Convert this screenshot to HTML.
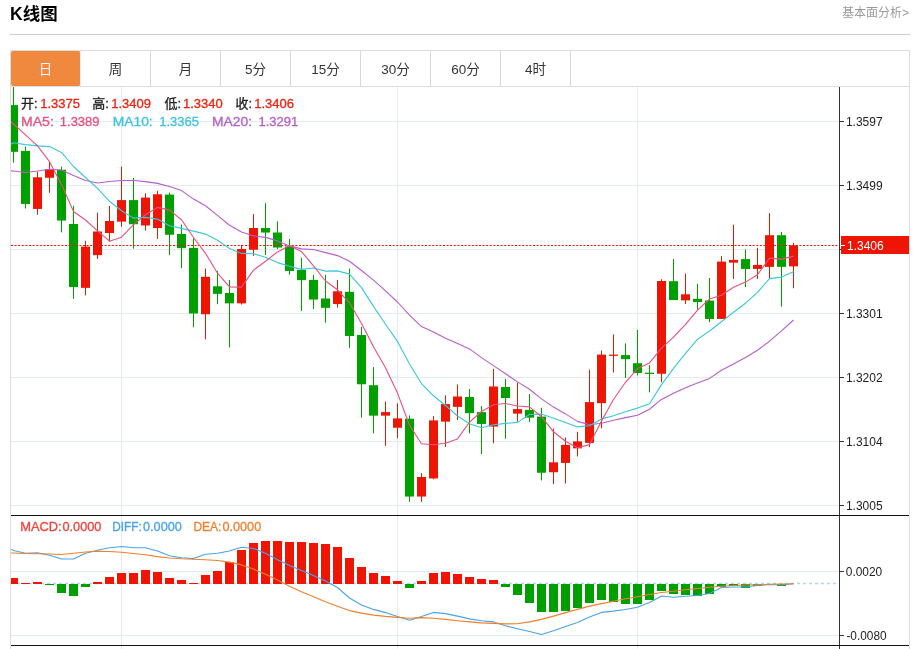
<!DOCTYPE html>
<html lang="zh-CN">
<head>
<meta charset="utf-8">
<title>K线图</title>
<style>
html,body{margin:0;padding:0;background:#fff;}
body{width:915px;height:649px;overflow:hidden;position:relative;font-family:"Liberation Sans","Noto Sans CJK SC",sans-serif;color:#333;}
.title{position:absolute;left:10px;top:1px;font-size:17.5px;line-height:26px;font-weight:bold;color:#000;letter-spacing:0;}
.more{position:absolute;right:6px;top:4px;font-size:12px;line-height:18px;color:#999;text-decoration:none;}
.hr{position:absolute;left:10px;top:34px;width:900px;height:1px;background:#ccc;}
.box{position:absolute;left:10px;top:50px;width:898px;height:598px;border:1px solid #ddd;border-bottom:none;}
.tabs{position:absolute;left:0;top:0;width:898px;height:35px;border-bottom:1px solid #ddd;margin:0;padding:0;list-style:none;}
.tabs li{float:left;width:69px;height:35px;line-height:37px;border-right:1px solid #d8d8d8;text-align:center;font-size:13.5px;color:#333;}
.tabs li.on{background:#f0883e;color:#fff;border-radius:2px;border-right-color:#eee;}
svg.chart{position:absolute;left:0;top:0;font-family:"Liberation Sans","Noto Sans CJK SC",sans-serif;}
</style>
</head>
<body>
<div class="title">K线图</div>
<a class="more">基本面分析&gt;</a>
<div class="hr"></div>
<div class="box">
<ul class="tabs"><li class="on">日</li><li>周</li><li>月</li><li>5分</li><li>15分</li><li>30分</li><li>60分</li><li>4时</li></ul>
</div>
<svg class="chart" width="915" height="649" viewBox="0 0 915 649">
<defs><clipPath id="cp"><rect x="11" y="86" width="828" height="563"/></clipPath></defs>
<g shape-rendering="crispEdges" stroke="#e2ebf3" stroke-width="1">
<line x1="11" y1="121.5" x2="839" y2="121.5"/>
<line x1="11" y1="185.5" x2="839" y2="185.5"/>
<line x1="11" y1="249.5" x2="839" y2="249.5"/>
<line x1="11" y1="313.5" x2="839" y2="313.5"/>
<line x1="11" y1="377.5" x2="839" y2="377.5"/>
<line x1="11" y1="441.5" x2="839" y2="441.5"/>
<line x1="11" y1="505.5" x2="839" y2="505.5"/>
<line x1="11" y1="571.5" x2="839" y2="571.5"/>
<line x1="11" y1="635.5" x2="839" y2="635.5"/>
<line x1="121.5" y1="87" x2="121.5" y2="649"/>
<line x1="397.5" y1="87" x2="397.5" y2="649"/>
<line x1="637.5" y1="87" x2="637.5" y2="649"/>
</g>
<line x1="11" y1="583.5" x2="839" y2="583.5" stroke="#a9d9f0" stroke-width="1.6" stroke-dasharray="3 3"/>
<g clip-path="url(#cp)">
<g>
<rect x="13" y="87.00" width="1" height="75.75" fill="#009f00"/>
<rect x="9" y="105.10" width="9" height="46.75" fill="#009f00"/>
<rect x="25" y="146.60" width="1" height="61.85" fill="#009f00"/>
<rect x="21" y="150.90" width="9" height="53.05" fill="#009f00"/>
<rect x="37" y="171.80" width="1" height="42.95" fill="#ee1505"/>
<rect x="33" y="177.30" width="9" height="31.65" fill="#ee1505"/>
<rect x="49" y="161.70" width="1" height="31.15" fill="#ee1505"/>
<rect x="45" y="169.20" width="9" height="8.55" fill="#ee1505"/>
<rect x="61" y="166.70" width="1" height="65.65" fill="#009f00"/>
<rect x="57" y="169.70" width="9" height="50.85" fill="#009f00"/>
<rect x="73" y="205.80" width="1" height="93.15" fill="#009f00"/>
<rect x="69" y="224.00" width="9" height="63.05" fill="#009f00"/>
<rect x="85" y="240.80" width="1" height="54.55" fill="#ee1505"/>
<rect x="81" y="246.60" width="9" height="41.25" fill="#ee1505"/>
<rect x="97" y="212.70" width="1" height="46.25" fill="#ee1505"/>
<rect x="93" y="231.50" width="9" height="23.65" fill="#ee1505"/>
<rect x="109" y="205.90" width="1" height="35.45" fill="#ee1505"/>
<rect x="105" y="221.00" width="9" height="12.05" fill="#ee1505"/>
<rect x="121" y="166.70" width="1" height="60.05" fill="#ee1505"/>
<rect x="117" y="200.10" width="9" height="21.55" fill="#ee1505"/>
<rect x="133" y="178.00" width="1" height="70.65" fill="#009f00"/>
<rect x="129" y="200.10" width="9" height="24.15" fill="#009f00"/>
<rect x="145" y="193.30" width="1" height="37.25" fill="#ee1505"/>
<rect x="141" y="197.60" width="9" height="27.85" fill="#ee1505"/>
<rect x="157" y="190.80" width="1" height="48.05" fill="#ee1505"/>
<rect x="153" y="194.30" width="9" height="33.75" fill="#ee1505"/>
<rect x="169" y="192.60" width="1" height="62.35" fill="#009f00"/>
<rect x="165" y="194.60" width="9" height="40.15" fill="#009f00"/>
<rect x="181" y="224.50" width="1" height="43.75" fill="#009f00"/>
<rect x="177" y="234.00" width="9" height="14.15" fill="#009f00"/>
<rect x="193" y="238.30" width="1" height="88.95" fill="#009f00"/>
<rect x="189" y="247.90" width="9" height="65.55" fill="#009f00"/>
<rect x="205" y="268.50" width="1" height="70.85" fill="#ee1505"/>
<rect x="201" y="276.80" width="9" height="37.45" fill="#ee1505"/>
<rect x="217" y="271.00" width="1" height="33.15" fill="#009f00"/>
<rect x="213" y="286.30" width="9" height="7.55" fill="#009f00"/>
<rect x="229" y="280.00" width="1" height="67.35" fill="#009f00"/>
<rect x="225" y="293.00" width="9" height="10.35" fill="#009f00"/>
<rect x="241" y="245.00" width="1" height="59.55" fill="#ee1505"/>
<rect x="237" y="249.00" width="9" height="54.35" fill="#ee1505"/>
<rect x="253" y="214.10" width="1" height="41.75" fill="#ee1505"/>
<rect x="249" y="228.00" width="9" height="21.75" fill="#ee1505"/>
<rect x="265" y="203.20" width="1" height="51.85" fill="#009f00"/>
<rect x="261" y="228.00" width="9" height="4.55" fill="#009f00"/>
<rect x="277" y="221.40" width="1" height="27.85" fill="#009f00"/>
<rect x="273" y="232.50" width="9" height="15.05" fill="#009f00"/>
<rect x="289" y="239.00" width="1" height="35.75" fill="#009f00"/>
<rect x="285" y="246.50" width="9" height="24.45" fill="#009f00"/>
<rect x="301" y="257.80" width="1" height="53.05" fill="#009f00"/>
<rect x="297" y="269.90" width="9" height="10.25" fill="#009f00"/>
<rect x="313" y="274.90" width="1" height="34.15" fill="#009f00"/>
<rect x="309" y="279.90" width="9" height="19.65" fill="#009f00"/>
<rect x="325" y="274.90" width="1" height="47.75" fill="#009f00"/>
<rect x="321" y="298.50" width="9" height="9.35" fill="#009f00"/>
<rect x="337" y="279.90" width="1" height="27.65" fill="#ee1505"/>
<rect x="333" y="291.30" width="9" height="12.75" fill="#ee1505"/>
<rect x="349" y="268.60" width="1" height="79.45" fill="#009f00"/>
<rect x="345" y="291.80" width="9" height="44.15" fill="#009f00"/>
<rect x="361" y="326.90" width="1" height="90.75" fill="#009f00"/>
<rect x="357" y="335.00" width="9" height="49.25" fill="#009f00"/>
<rect x="373" y="367.10" width="1" height="66.15" fill="#009f00"/>
<rect x="369" y="385.20" width="9" height="30.45" fill="#009f00"/>
<rect x="385" y="401.60" width="1" height="44.25" fill="#ee1505"/>
<rect x="381" y="412.10" width="9" height="3.55" fill="#ee1505"/>
<rect x="397" y="403.30" width="1" height="34.95" fill="#ee1505"/>
<rect x="393" y="418.40" width="9" height="9.35" fill="#ee1505"/>
<rect x="409" y="415.40" width="1" height="86.45" fill="#009f00"/>
<rect x="405" y="418.70" width="9" height="77.85" fill="#009f00"/>
<rect x="421" y="473.20" width="1" height="28.65" fill="#ee1505"/>
<rect x="417" y="477.00" width="9" height="19.55" fill="#ee1505"/>
<rect x="433" y="416.10" width="1" height="63.15" fill="#ee1505"/>
<rect x="429" y="420.40" width="9" height="58.05" fill="#ee1505"/>
<rect x="445" y="395.30" width="1" height="51.75" fill="#ee1505"/>
<rect x="441" y="404.10" width="9" height="17.55" fill="#ee1505"/>
<rect x="457" y="384.50" width="1" height="35.45" fill="#ee1505"/>
<rect x="453" y="396.50" width="9" height="10.35" fill="#ee1505"/>
<rect x="469" y="389.00" width="1" height="44.25" fill="#009f00"/>
<rect x="465" y="397.00" width="9" height="16.15" fill="#009f00"/>
<rect x="481" y="406.10" width="1" height="47.95" fill="#009f00"/>
<rect x="477" y="412.10" width="9" height="11.85" fill="#009f00"/>
<rect x="493" y="368.90" width="1" height="74.35" fill="#ee1505"/>
<rect x="489" y="386.50" width="9" height="40.05" fill="#ee1505"/>
<rect x="505" y="378.90" width="1" height="59.85" fill="#009f00"/>
<rect x="501" y="387.00" width="9" height="11.05" fill="#009f00"/>
<rect x="517" y="382.70" width="1" height="38.75" fill="#ee1505"/>
<rect x="513" y="409.10" width="9" height="4.55" fill="#ee1505"/>
<rect x="529" y="394.00" width="1" height="27.95" fill="#009f00"/>
<rect x="525" y="409.90" width="9" height="7.75" fill="#009f00"/>
<rect x="541" y="407.80" width="1" height="72.65" fill="#009f00"/>
<rect x="537" y="416.60" width="9" height="56.15" fill="#009f00"/>
<rect x="553" y="428.70" width="1" height="55.35" fill="#ee1505"/>
<rect x="549" y="462.30" width="9" height="9.95" fill="#ee1505"/>
<rect x="565" y="437.60" width="1" height="45.95" fill="#ee1505"/>
<rect x="561" y="444.90" width="9" height="18.05" fill="#ee1505"/>
<rect x="577" y="431.80" width="1" height="24.65" fill="#ee1505"/>
<rect x="573" y="441.40" width="9" height="6.95" fill="#ee1505"/>
<rect x="589" y="369.70" width="1" height="77.45" fill="#ee1505"/>
<rect x="585" y="402.10" width="9" height="40.75" fill="#ee1505"/>
<rect x="601" y="350.60" width="1" height="77.65" fill="#ee1505"/>
<rect x="597" y="354.60" width="9" height="48.55" fill="#ee1505"/>
<rect x="613" y="334.50" width="1" height="37.95" fill="#ee1505"/>
<rect x="609" y="354.60" width="9" height="1.25" fill="#ee1505"/>
<rect x="625" y="343.30" width="1" height="34.75" fill="#009f00"/>
<rect x="621" y="355.10" width="9" height="4.05" fill="#009f00"/>
<rect x="637" y="330.00" width="1" height="45.45" fill="#009f00"/>
<rect x="633" y="363.20" width="9" height="9.75" fill="#009f00"/>
<rect x="649" y="365.20" width="1" height="27.15" fill="#009f00"/>
<rect x="645" y="372.70" width="9" height="1.25" fill="#009f00"/>
<rect x="661" y="279.20" width="1" height="103.05" fill="#ee1505"/>
<rect x="657" y="281.00" width="9" height="92.75" fill="#ee1505"/>
<rect x="673" y="259.10" width="1" height="40.95" fill="#009f00"/>
<rect x="669" y="281.20" width="9" height="18.85" fill="#009f00"/>
<rect x="685" y="273.70" width="1" height="30.35" fill="#ee1505"/>
<rect x="681" y="294.30" width="9" height="6.05" fill="#ee1505"/>
<rect x="697" y="283.70" width="1" height="25.95" fill="#009f00"/>
<rect x="693" y="298.80" width="9" height="3.25" fill="#009f00"/>
<rect x="709" y="278.00" width="1" height="44.15" fill="#009f00"/>
<rect x="705" y="300.60" width="9" height="18.35" fill="#009f00"/>
<rect x="721" y="256.10" width="1" height="62.85" fill="#ee1505"/>
<rect x="717" y="261.60" width="9" height="57.35" fill="#ee1505"/>
<rect x="733" y="224.70" width="1" height="54.25" fill="#ee1505"/>
<rect x="729" y="259.90" width="9" height="2.75" fill="#ee1505"/>
<rect x="745" y="249.50" width="1" height="37.55" fill="#009f00"/>
<rect x="741" y="259.10" width="9" height="9.85" fill="#009f00"/>
<rect x="757" y="247.80" width="1" height="31.15" fill="#ee1505"/>
<rect x="753" y="264.90" width="9" height="4.05" fill="#ee1505"/>
<rect x="769" y="213.10" width="1" height="65.85" fill="#ee1505"/>
<rect x="765" y="235.20" width="9" height="31.65" fill="#ee1505"/>
<rect x="781" y="232.00" width="1" height="74.65" fill="#009f00"/>
<rect x="777" y="235.20" width="9" height="31.65" fill="#009f00"/>
<rect x="793" y="242.80" width="1" height="45.45" fill="#ee1505"/>
<rect x="789" y="245.30" width="9" height="21.05" fill="#ee1505"/>
</g>
<line x1="11" y1="245.5" x2="839" y2="245.5" stroke="#ee1505" stroke-width="1.1" stroke-dasharray="2 1.6"/>
<polyline fill="none" stroke="#b55fc9" stroke-width="1.1" stroke-linejoin="round" points="1.5,170.5 13.5,171.0 25.5,172.5 37.5,171.0 49.5,169.2 61.5,170.0 73.5,175.5 85.5,180.5 97.5,183.0 109.5,181.5 121.5,180.5 133.5,180.5 145.5,181.6 157.5,183.4 169.5,186.5 181.5,190.6 193.5,199.1 205.5,205.8 217.5,215.4 229.5,225.2 241.5,232.1 253.5,235.9 265.5,237.4 277.5,240.9 289.5,245.9 301.5,248.9 313.5,249.5 325.5,252.6 337.5,255.6 349.5,261.3 361.5,270.5 373.5,280.1 385.5,290.8 397.5,302.0 409.5,315.1 421.5,326.6 433.5,331.9 445.5,338.3 457.5,343.4 469.5,348.9 481.5,357.6 493.5,365.6 505.5,373.8 517.5,381.9 529.5,389.3 541.5,398.9 553.5,407.1 565.5,413.9 577.5,421.4 589.5,424.7 601.5,423.3 613.5,420.2 625.5,417.6 637.5,415.3 649.5,409.2 661.5,399.4 673.5,393.3 685.5,387.8 697.5,383.1 709.5,378.4 721.5,370.3 733.5,364.0 745.5,357.5 757.5,350.3 769.5,341.2 781.5,330.9 793.5,320.0"/>
<polyline fill="none" stroke="#3cc5dc" stroke-width="1.1" stroke-linejoin="round" points="1.5,149.5 13.5,142.7 25.5,144.6 37.5,145.9 49.5,146.6 61.5,152.4 73.5,166.5 85.5,177.5 97.5,188.3 109.5,201.3 121.5,210.8 133.5,218.1 145.5,217.4 157.5,219.1 169.5,225.7 181.5,228.4 193.5,231.1 205.5,234.1 217.5,240.3 229.5,248.5 241.5,253.4 253.5,253.8 265.5,257.3 277.5,262.6 289.5,266.2 301.5,269.4 313.5,268.0 325.5,271.1 337.5,270.9 349.5,274.1 361.5,287.6 373.5,306.4 385.5,324.3 397.5,341.4 409.5,364.0 421.5,383.7 433.5,395.8 445.5,405.5 457.5,416.0 469.5,423.7 481.5,427.7 493.5,424.8 505.5,423.4 517.5,422.4 529.5,414.5 541.5,414.1 553.5,418.3 565.5,422.4 577.5,426.9 589.5,425.8 601.5,418.9 613.5,415.7 625.5,411.8 637.5,408.1 649.5,403.8 661.5,384.6 673.5,368.4 685.5,353.3 697.5,339.4 709.5,331.0 721.5,321.7 733.5,312.2 745.5,303.2 757.5,292.4 769.5,278.6 781.5,277.1 793.5,271.7"/>
<polyline fill="none" stroke="#e8507f" stroke-width="1.1" stroke-linejoin="round" points="1.5,114.5 13.5,124.0 25.5,134.8 37.5,145.9 49.5,161.7 61.5,184.4 73.5,211.5 85.5,220.0 97.5,230.9 109.5,241.2 121.5,237.2 133.5,224.6 145.5,214.8 157.5,207.4 169.5,210.1 181.5,219.7 193.5,237.5 205.5,253.3 217.5,273.2 229.5,286.9 241.5,287.1 253.5,270.1 265.5,261.2 277.5,251.9 289.5,245.5 301.5,251.6 313.5,265.9 325.5,281.0 337.5,289.8 349.5,302.8 361.5,323.6 373.5,346.8 385.5,367.7 397.5,393.1 409.5,425.2 421.5,443.8 433.5,444.8 445.5,443.2 457.5,438.9 469.5,422.2 481.5,411.5 493.5,404.7 505.5,403.5 517.5,406.0 529.5,406.9 541.5,416.7 553.5,431.8 565.5,441.2 577.5,447.7 589.5,444.6 601.5,421.1 613.5,399.5 625.5,382.3 637.5,368.6 649.5,362.9 661.5,348.2 673.5,337.2 685.5,324.3 697.5,310.1 709.5,299.1 721.5,295.2 733.5,287.3 745.5,282.1 757.5,274.8 769.5,258.1 781.5,259.1 793.5,256.1"/>
<g shape-rendering="crispEdges">
<rect x="9" y="578" width="9" height="6" fill="#ee1505"/>
<rect x="21" y="583" width="9" height="1" fill="#ee1505"/>
<rect x="33" y="582" width="9" height="2" fill="#ee1505"/>
<rect x="45" y="584" width="9" height="1" fill="#009f00"/>
<rect x="57" y="584" width="9" height="9" fill="#009f00"/>
<rect x="69" y="584" width="9" height="12" fill="#009f00"/>
<rect x="81" y="584" width="9" height="3" fill="#009f00"/>
<rect x="93" y="582" width="9" height="2" fill="#ee1505"/>
<rect x="105" y="577" width="9" height="7" fill="#ee1505"/>
<rect x="117" y="573" width="9" height="11" fill="#ee1505"/>
<rect x="129" y="573" width="9" height="11" fill="#ee1505"/>
<rect x="141" y="570" width="9" height="14" fill="#ee1505"/>
<rect x="153" y="572" width="9" height="12" fill="#ee1505"/>
<rect x="165" y="578" width="9" height="6" fill="#ee1505"/>
<rect x="177" y="580" width="9" height="4" fill="#ee1505"/>
<rect x="189" y="583" width="9" height="1" fill="#ee1505"/>
<rect x="201" y="575" width="9" height="9" fill="#ee1505"/>
<rect x="213" y="571" width="9" height="13" fill="#ee1505"/>
<rect x="225" y="562" width="9" height="22" fill="#ee1505"/>
<rect x="237" y="550" width="9" height="34" fill="#ee1505"/>
<rect x="249" y="543" width="9" height="41" fill="#ee1505"/>
<rect x="261" y="541" width="9" height="43" fill="#ee1505"/>
<rect x="273" y="541" width="9" height="43" fill="#ee1505"/>
<rect x="285" y="542" width="9" height="42" fill="#ee1505"/>
<rect x="297" y="542" width="9" height="42" fill="#ee1505"/>
<rect x="309" y="543" width="9" height="41" fill="#ee1505"/>
<rect x="321" y="544" width="9" height="40" fill="#ee1505"/>
<rect x="333" y="547" width="9" height="37" fill="#ee1505"/>
<rect x="345" y="558" width="9" height="26" fill="#ee1505"/>
<rect x="357" y="567" width="9" height="17" fill="#ee1505"/>
<rect x="369" y="573" width="9" height="11" fill="#ee1505"/>
<rect x="381" y="576" width="9" height="8" fill="#ee1505"/>
<rect x="393" y="581" width="9" height="3" fill="#ee1505"/>
<rect x="405" y="584" width="9" height="4" fill="#009f00"/>
<rect x="417" y="581" width="9" height="3" fill="#ee1505"/>
<rect x="429" y="573" width="9" height="11" fill="#ee1505"/>
<rect x="441" y="572" width="9" height="12" fill="#ee1505"/>
<rect x="453" y="574" width="9" height="10" fill="#ee1505"/>
<rect x="465" y="577" width="9" height="7" fill="#ee1505"/>
<rect x="477" y="579" width="9" height="5" fill="#ee1505"/>
<rect x="489" y="580" width="9" height="4" fill="#ee1505"/>
<rect x="501" y="584" width="9" height="3" fill="#009f00"/>
<rect x="513" y="584" width="9" height="11" fill="#009f00"/>
<rect x="525" y="584" width="9" height="19" fill="#009f00"/>
<rect x="537" y="584" width="9" height="28" fill="#009f00"/>
<rect x="549" y="584" width="9" height="28" fill="#009f00"/>
<rect x="561" y="584" width="9" height="27" fill="#009f00"/>
<rect x="573" y="584" width="9" height="24" fill="#009f00"/>
<rect x="585" y="584" width="9" height="19" fill="#009f00"/>
<rect x="597" y="584" width="9" height="16" fill="#009f00"/>
<rect x="609" y="584" width="9" height="18" fill="#009f00"/>
<rect x="621" y="584" width="9" height="20" fill="#009f00"/>
<rect x="633" y="584" width="9" height="20" fill="#009f00"/>
<rect x="645" y="584" width="9" height="16" fill="#009f00"/>
<rect x="657" y="584" width="9" height="7" fill="#009f00"/>
<rect x="669" y="584" width="9" height="10" fill="#009f00"/>
<rect x="681" y="584" width="9" height="11" fill="#009f00"/>
<rect x="693" y="584" width="9" height="12" fill="#009f00"/>
<rect x="705" y="584" width="9" height="10" fill="#009f00"/>
<rect x="717" y="584" width="9" height="3" fill="#009f00"/>
<rect x="729" y="584" width="9" height="2" fill="#009f00"/>
<rect x="741" y="584" width="9" height="4" fill="#009f00"/>
<rect x="753" y="584" width="9" height="2" fill="#009f00"/>
<rect x="777" y="584" width="9" height="2" fill="#009f00"/>
</g>
<polyline fill="none" stroke="#4aa3ea" stroke-width="1.1" stroke-linejoin="round" points="1.5,544.5 13.5,550.5 25.5,553.3 37.5,552.8 49.5,555.3 61.5,559.0 73.5,559.0 85.5,553.3 97.5,550.3 109.5,547.8 121.5,546.5 133.5,547.8 145.5,547.8 157.5,551.0 169.5,555.8 181.5,557.8 193.5,558.6 205.5,554.3 217.5,553.3 229.5,551.0 241.5,547.3 253.5,548.5 265.5,553.3 277.5,559.8 289.5,565.4 301.5,570.4 313.5,575.4 325.5,580.9 337.5,587.5 349.5,598.0 361.5,605.0 373.5,609.4 385.5,612.6 397.5,616.4 409.5,620.2 421.5,616.6 433.5,612.4 445.5,613.6 457.5,616.1 469.5,618.9 481.5,620.7 493.5,621.9 505.5,625.7 517.5,628.7 529.5,631.5 541.5,634.5 553.5,630.7 565.5,626.4 577.5,622.4 589.5,616.9 601.5,612.4 613.5,611.1 625.5,609.5 637.5,607.3 649.5,602.6 661.5,596.0 673.5,597.3 685.5,596.3 697.5,595.5 709.5,593.5 721.5,587.5 733.5,587.0 745.5,587.0 757.5,585.5 769.5,584.5 781.5,585.0 793.5,583.7"/>
<polyline fill="none" stroke="#f07f2e" stroke-width="1.1" stroke-linejoin="round" points="1.5,553.2 13.5,553.0 25.5,553.5 37.5,553.8 49.5,554.0 61.5,554.5 73.5,553.3 85.5,552.0 97.5,551.3 109.5,551.5 121.5,552.3 133.5,553.5 145.5,554.8 157.5,556.6 169.5,558.0 181.5,558.8 193.5,559.3 205.5,559.8 217.5,560.5 229.5,562.1 241.5,564.9 253.5,569.1 265.5,574.2 277.5,579.9 289.5,586.2 301.5,591.8 313.5,596.8 325.5,601.8 337.5,606.3 349.5,610.6 361.5,613.1 373.5,615.1 385.5,616.4 397.5,617.4 409.5,618.2 421.5,617.6 433.5,618.2 445.5,619.4 457.5,620.7 469.5,621.9 481.5,622.9 493.5,623.4 505.5,623.9 517.5,623.7 529.5,621.9 541.5,619.4 553.5,616.1 565.5,612.6 577.5,609.4 589.5,606.1 601.5,603.6 613.5,601.3 625.5,598.8 637.5,596.8 649.5,594.5 661.5,592.5 673.5,591.3 685.5,589.7 697.5,588.5 709.5,587.2 721.5,586.2 733.5,585.5 745.5,585.0 757.5,584.7 769.5,584.2 781.5,584.0 793.5,583.7"/>
</g>
<g shape-rendering="crispEdges">
<rect x="839" y="87" width="1" height="562" fill="#333"/>
<rect x="11" y="515" width="898" height="1" fill="#111"/>
<rect x="11" y="645" width="898" height="1" fill="#111"/>
<rect x="840" y="121" width="4" height="1" fill="#333"/>
<rect x="840" y="185" width="4" height="1" fill="#333"/>
<rect x="840" y="249" width="4" height="1" fill="#333"/>
<rect x="840" y="313" width="4" height="1" fill="#333"/>
<rect x="840" y="377" width="4" height="1" fill="#333"/>
<rect x="840" y="441" width="4" height="1" fill="#333"/>
<rect x="840" y="505" width="4" height="1" fill="#333"/>
<rect x="840" y="571" width="4" height="1" fill="#333"/>
<rect x="840" y="635" width="4" height="1" fill="#333"/>
<rect x="841" y="236" width="68" height="18" fill="#ee1505"/>
<rect x="841" y="245" width="4" height="1" fill="#fff"/>
</g>
<g font-size="12" fill="#222">
<text x="845.9" y="125.6">1.3597</text>
<text x="845.9" y="189.6">1.3499</text>
<text x="845.9" y="317.6">1.3301</text>
<text x="845.9" y="381.6">1.3202</text>
<text x="845.9" y="445.6">1.3104</text>
<text x="845.9" y="509.6">1.3005</text>
<text x="845.8" y="575.6" textLength="36.4" lengthAdjust="spacingAndGlyphs">0.0020</text>
<text x="846.4" y="639.6" textLength="40.2" lengthAdjust="spacingAndGlyphs">-0.0080</text>
<text x="847" y="249.8" fill="#fff">1.3406</text>
</g>
<g font-size="13">
<text x="21" y="108" fill="#222" stroke="#222" stroke-width="0.3">开:</text>
<text x="40.2" y="108" fill="#ee2211" stroke="#ee2211" stroke-width="0.3">1.3375</text>
<text x="92.3" y="108" fill="#222" stroke="#222" stroke-width="0.3">高:</text>
<text x="111.2" y="108" fill="#ee2211" stroke="#ee2211" stroke-width="0.3">1.3409</text>
<text x="164.4" y="108" fill="#222" stroke="#222" stroke-width="0.3">低:</text>
<text x="183" y="108" fill="#ee2211" stroke="#ee2211" stroke-width="0.3">1.3340</text>
<text x="235.4" y="108" fill="#222" stroke="#222" stroke-width="0.3">收:</text>
<text x="254.2" y="108" fill="#ee2211" stroke="#ee2211" stroke-width="0.3">1.3406</text>
<text x="21" y="125.5" fill="#e8507f" stroke="#e8507f" stroke-width="0.3" textLength="32.8" lengthAdjust="spacingAndGlyphs">MA5:</text>
<text x="59.8" y="125.5" fill="#e8507f" stroke="#e8507f" stroke-width="0.3">1.3389</text>
<text x="112.7" y="125.5" fill="#3cc5dc" stroke="#3cc5dc" stroke-width="0.3" textLength="40" lengthAdjust="spacingAndGlyphs">MA10:</text>
<text x="159.2" y="125.5" fill="#3cc5dc" stroke="#3cc5dc" stroke-width="0.3">1.3365</text>
<text x="212" y="125.5" fill="#b55fc9" stroke="#b55fc9" stroke-width="0.3" textLength="40" lengthAdjust="spacingAndGlyphs">MA20:</text>
<text x="258.5" y="125.5" fill="#b55fc9" stroke="#b55fc9" stroke-width="0.3">1.3291</text>
<text x="20.3" y="530.5" fill="#f0413a" stroke="#f0413a" stroke-width="0.3" textLength="41.4" lengthAdjust="spacingAndGlyphs">MACD:</text>
<text x="62.5" y="530.5" fill="#f0413a" stroke="#f0413a" stroke-width="0.3" textLength="38.8" lengthAdjust="spacingAndGlyphs">0.0000</text>
<text x="112.3" y="530.5" fill="#4aa3ea" stroke="#4aa3ea" stroke-width="0.3" textLength="29.5" lengthAdjust="spacingAndGlyphs">DIFF:</text>
<text x="143" y="530.5" fill="#4aa3ea" stroke="#4aa3ea" stroke-width="0.3" textLength="38.8" lengthAdjust="spacingAndGlyphs">0.0000</text>
<text x="193.4" y="530.5" fill="#f07f2e" stroke="#f07f2e" stroke-width="0.3" textLength="28" lengthAdjust="spacingAndGlyphs">DEA:</text>
<text x="222.4" y="530.5" fill="#f07f2e" stroke="#f07f2e" stroke-width="0.3" textLength="38.8" lengthAdjust="spacingAndGlyphs">0.0000</text>
</g>
</svg>
</body>
</html>
